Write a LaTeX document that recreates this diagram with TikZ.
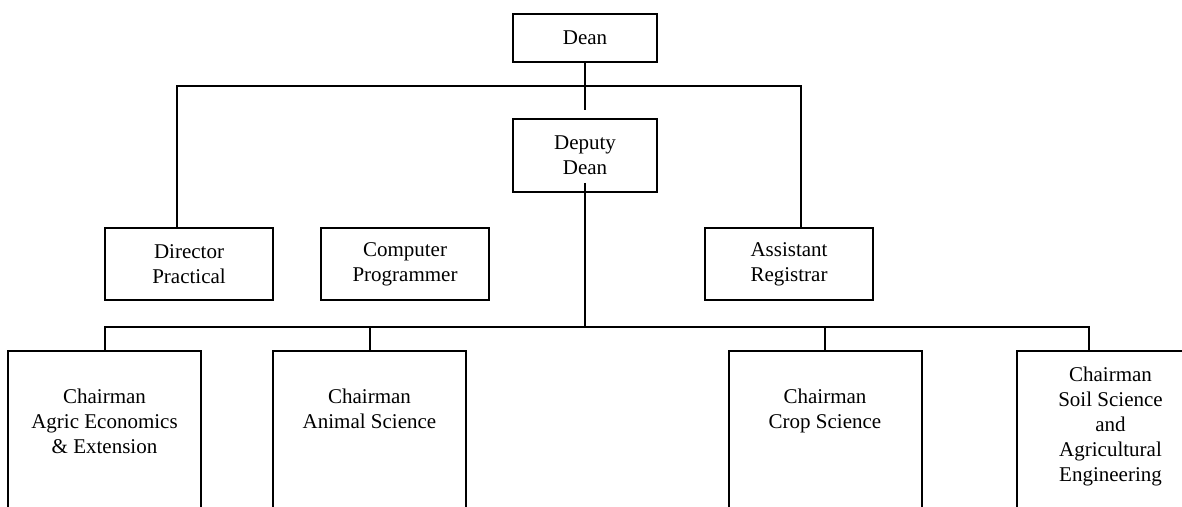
\documentclass[tikz,border=0pt]{standalone}
\usepackage{fontspec}
\setmainfont{Liberation Serif}
\usetikzlibrary{calc}

\begin{document}
\begin{tikzpicture}[x=0.5pt, y=-0.5pt]
			\tikzstyle{post}=[draw, line width=1pt, shape=rectangle, inner sep=0pt, align=center, font=\fontsize{10.5}{12.5}\selectfont];
			\tikzstyle{chairbox}=[post, anchor=north, minimum width=96.5pt, minimum height=100pt];
			\tikzstyle{chairtext}=[anchor=north, inner sep=0pt, align=center, font=\fontsize{10.5}{12.5}\selectfont];
			\tikzstyle{link}=[line width=1pt];
			\useasboundingbox (0,0) rectangle (1182,507);
			\clip (0,0) rectangle (1182,507);
			% top of the chart
			\node [post, minimum width=72pt, minimum height=24pt] (dean) at (585, 38) {Dean};
			\node [post, minimum width=72pt, minimum height=36.5pt] (deputy) at (585, 155.5) {Deputy\\Dean};
			\node [post, minimum width=84pt, minimum height=36pt] (director) at (189, 264) {Director\\Practical};
			\node [post, minimum width=84pt, minimum height=36pt] (programmer) at (405, 264) {Computer\\Programmer};
			\node [post, minimum width=84pt, minimum height=36pt] (registrar) at (789, 264) {Assistant\\Registrar};
			% chairmen of the departments
			\node [chairbox] (agric) at (104.5, 350) {};
			\node [chairbox] (animal) at (369.5, 350) {};
			\node [chairbox] (crop) at (825, 350) {};
			\node [chairbox] (soil) at (1113.5, 350) {};
			\node [chairtext] (agrictext) at ($(agric.north)+(0, 39)$) {Chairman\\Agric Economics\\\& Extension};
			\node [chairtext] (animaltext) at ($(animal.north)+(0, 39)$) {Chairman\\Animal Science};
			\node [chairtext] (croptext) at ($(crop.north)+(0, 39)$) {Chairman\\Crop Science};
			\node [chairtext] (soiltext) at ($(soil.north)+(-3, 17)$) {Chairman\\Soil Science\\and\\Agricultural\\Engineering};
			% lines
			\coordinate (dirtap) at (177, 86);
			\coordinate (regtap) at (801, 86);
			\coordinate (busB) at (585, 327);
			\coordinate (soiltap) at (1089, 327);
			\draw [link, shorten >=4pt] (dean.south) -- (deputy.north);
			\draw [link] (dirtap |- director.north) -- (dirtap) -- (regtap) -- (regtap |- registrar.north);
			\draw [link, shorten <=-5pt] (deputy.south) -- (busB);
			\draw [link] (agric.north) |- (soiltap) -- (soiltap |- soil.north);
			\draw [link] (animal.north) -- (animal.north |- busB);
			\draw [link] (crop.north) -- (crop.north |- busB);
		\end{tikzpicture}
\end{document}
